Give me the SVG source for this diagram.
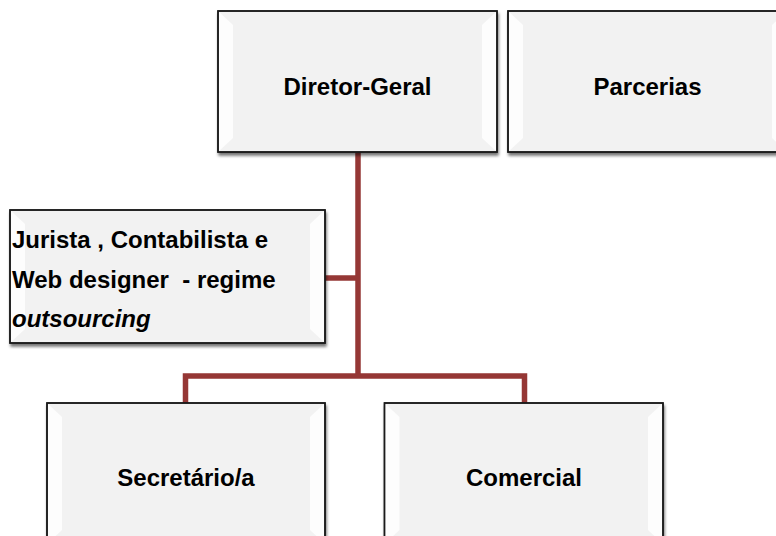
<svg xmlns="http://www.w3.org/2000/svg" width="776" height="536" viewBox="0 0 776 536">
<style>
.box{fill:#f2f2f2;stroke:#1a1a1a;stroke-width:1.5;filter:url(#sh)}
.bev{fill:#ffffff;opacity:0.85}
.t{font-family:"Liberation Sans",Arial,sans-serif;font-weight:bold;font-size:24px;fill:#000}
.c{text-anchor:middle}
.conn{fill:none;stroke:#953735;stroke-width:5.5;stroke-linejoin:miter}
</style>
<defs>
<filter id="sh" x="-10%" y="-10%" width="125%" height="125%">
<feGaussianBlur in="SourceAlpha" stdDeviation="1.5"/>
<feOffset dx="1" dy="3" result="b"/>
<feComponentTransfer><feFuncA type="linear" slope="0.55"/></feComponentTransfer>
<feMerge><feMergeNode/><feMergeNode in="SourceGraphic"/></feMerge>
</filter>
</defs>
<rect width="776" height="536" fill="#fff"/>
<g id="connectors">
<path class="conn" d="M358,152 V376"/>
<path class="conn" d="M325,278 H358"/>
<path class="conn" d="M185.5,403 V376 H524.5 V403"/>
</g>
<g id="diretor">
<rect class="box" x="218" y="11" width="279" height="141"/>
<polygon class="bev" points="219,12 233,25 233,138 219,151"/>
<polygon class="bev" points="496,12 482,25 482,138 496,151"/>
<rect x="218" y="11" width="279" height="141" fill="none" stroke="#1a1a1a" stroke-width="1.5"/>
<text class="t c" x="357.5" y="95">Diretor-Geral</text>
</g>
<g id="parcerias">
<rect class="box" x="508" y="11" width="279" height="141"/>
<polygon class="bev" points="509,12 523,25 523,138 509,151"/>
<polygon class="bev" points="786,12 772,25 772,138 786,151"/>
<rect x="508" y="11" width="279" height="141" fill="none" stroke="#1a1a1a" stroke-width="1.5"/>
<text class="t c" x="647.5" y="95">Parcerias</text>
</g>
<g id="jurista">
<rect class="box" x="10" y="210" width="315" height="133"/>
<polygon class="bev" points="11,211 25,224 25,329 11,342"/>
<polygon class="bev" points="324,211 310,224 310,329 324,342"/>
<rect x="10" y="210" width="315" height="133" fill="none" stroke="#1a1a1a" stroke-width="1.5"/>
<text class="t" x="12" y="248">Jurista , Contabilista e</text>
<text class="t" x="12" y="288" xml:space="preserve">Web designer  - regime</text>
<text class="t" x="12" y="327" font-style="italic">outsourcing</text>
</g>
<g id="secretario">
<rect class="box" x="47" y="403" width="278" height="141"/>
<polygon class="bev" points="48,404 62,417 62,530 48,543"/>
<polygon class="bev" points="324,404 310,417 310,530 324,543"/>
<rect x="47" y="403" width="278" height="141" fill="none" stroke="#1a1a1a" stroke-width="1.5"/>
<text class="t c" x="186" y="486">Secretário/a</text>
</g>
<g id="comercial">
<rect class="box" x="384.5" y="403" width="278.5" height="141"/>
<polygon class="bev" points="385.5,404 399.5,417 399.5,530 385.5,543"/>
<polygon class="bev" points="662,404 648,417 648,530 662,543"/>
<rect x="384.5" y="403" width="278.5" height="141" fill="none" stroke="#1a1a1a" stroke-width="1.5"/>
<text class="t c" x="524" y="486">Comercial</text>
</g>
</svg>
